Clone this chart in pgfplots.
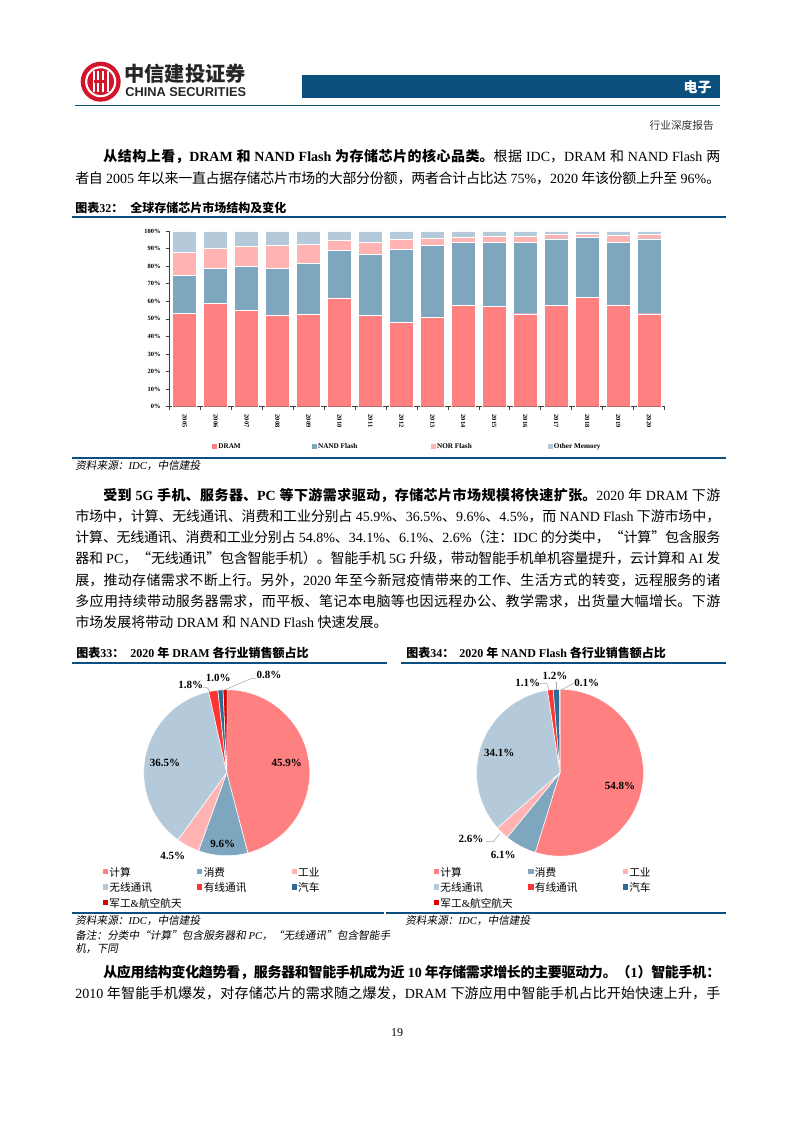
\documentclass[border=0pt]{standalone}
\usepackage{fontspec}
\usepackage{pgfplots}
\pgfplotsset{compat=1.18}
\setmainfont{Liberation Serif}
\newfontfamily\cjk{Noto Sans CJK SC}[ItalicFont={Noto Sans CJK SC}, ItalicFeatures={FakeSlant=0.18}]
\newfontfamily\arialf{Liberation Sans}
% switch to the CJK font for CJK characters
\XeTeXinterchartokenstate=1
\newXeTeXintercharclass\CJKclass
\newcount\cc
\cc="2E80 \loop\XeTeXcharclass\cc=\CJKclass \ifnum\cc<"9FFF \advance\cc by 1 \repeat
\cc="FF00 \loop\XeTeXcharclass\cc=\CJKclass \ifnum\cc<"FFEF \advance\cc by 1 \repeat
\XeTeXcharclass"201C=\CJKclass \XeTeXcharclass"201D=\CJKclass
\XeTeXinterchartoks 0 \CJKclass = {\cjk}
\XeTeXinterchartoks 4095 \CJKclass = {\cjk}
\XeTeXinterchartoks \CJKclass 0 = {\rmfamily}
\XeTeXinterchartoks \CJKclass 4095 = {\rmfamily}
\XeTeXlinebreaklocale "zh"
\XeTeXlinebreakskip=0pt plus 2pt minus 0.8pt

\definecolor{hdr}{HTML}{0B4F7C}
\definecolor{cA}{HTML}{FF8080}
\definecolor{cB}{HTML}{7FA6BF}
\definecolor{cC}{HTML}{FFB3B3}
\definecolor{cD}{HTML}{B4C9D9}
\definecolor{cE}{HTML}{FF3535}
\definecolor{cF}{HTML}{2F6B92}
\definecolor{cG}{HTML}{E00000}
\definecolor{logored}{HTML}{D2152B}

\pgfplotsset{sqleg/.style={legend image code/.code={\fill[##1,draw=none] (0pt,-1.9pt) rectangle (3.8pt,1.9pt);}}}
\newcommand\lgb[2]{\makebox[#1][l]{\hspace{1pt}#2}}
\newcommand\lgp[1]{\makebox[67pt][l]{\rule[-2.8pt]{0pt}{11.6pt}\hspace{1pt}#1}}
\newcommand\pieslices[2]{%
  \xdef\pieangle{90}%
  \foreach \v/\c in {#2}{%
    \pgfmathsetmacro\pieend{\pieangle-3.6*\v}%
    \fill[\c, draw=white, line width=0.4pt] (axis cs:0,0) -- ++(\pieangle:#1) arc[start angle=\pieangle, end angle=\pieend, radius=#1] -- cycle;
    \xdef\pieangle{\pieend}%
  }}

\begin{document}
\begin{tikzpicture}[x=0.75pt,y=0.75pt]
\fill[white] (0,0) rectangle (794,-1123);

% ---------- header ----------
\fill[logored] (100.7,-81.7) circle (20);
\draw[white, line width=1.6pt] (100.7,-81.7) circle (14.5);
\fill[logored] (100.7,-81.7) circle (12);
\foreach \dx in {-7,-2.5,2.5,7} \fill[white] (100.7+\dx-1.1,-71) rectangle (100.7+\dx+1.1,-92.4);
\fill[logored] (94,-80.5) rectangle (107.4,-82.9);
\node[anchor=west, inner sep=0, text=black!85] at (124,-73.3) {\fontsize{15.2pt}{16pt}\selectfont\bfseries 中信建投证券};
\node[anchor=west, inner sep=0, text=black!85] at (125,-92) {\arialf\fontsize{9.6pt}{10pt}\selectfont\bfseries CHINA SECURITIES};
\fill[hdr] (302,-75) rectangle (720,-97.7);
\node[anchor=east, inner sep=0, text=white] at (712,-87) {\fontsize{10.5pt}{12pt}\selectfont\bfseries 电子};
\draw[hdr, line width=1.1pt] (75,-105.7) -- (720,-105.7);
\node[anchor=east, inner sep=0, text=black!80] at (714,-125) {\fontsize{8pt}{9pt}\selectfont 行业深度报告};

% ---------- paragraph 1 ----------
\node[anchor=base west, inner sep=0, text width=483.75pt, align=justify, font=\fontsize{10.5pt}{16.2pt}\selectfont] at (75,-162) {\hspace*{21pt}\textbf{从结构上看，DRAM 和 NAND Flash 为存储芯片的核心品类。}根据 IDC，DRAM 和 NAND Flash 两\linebreak
者自 2005 年以来一直占据存储芯片市场的大部分份额，两者合计占比达 75\%，2020 年该份额上升至 96\%。\par};

% ---------- figure 32 ----------
\node[anchor=west, inner sep=0] at (75,-208) {\fontsize{9pt}{10pt}\selectfont\bfseries 图表32：};
\node[anchor=west, inner sep=0] at (130,-208) {\fontsize{9pt}{10pt}\selectfont\bfseries 全球存储芯片市场结构及变化};
\draw[hdr, line width=1.3pt] (72,-216.7) -- (726,-216.7);

\begin{axis}[
  at={(126.9pt,-305.03pt)}, anchor=south west, scale only axis,
  width=371.5pt, height=131.8pt,
  ybar stacked, bar width=18pt,
  xmin=-0.5, xmax=15.5, ymin=0, ymax=100,
  xtick={-0.5,0.5,...,15.5}, x tick label as interval,
  xticklabels={2005,2006,2007,2008,2009,2010,2011,2012,2013,2014,2015,2016,2017,2018,2019,2020},
  ytick={0,10,...,100},
  yticklabel={\pgfmathprintnumber{\tick}\%},
  /pgf/number format/assume math mode=true,
  axis x line*=bottom, axis y line*=left,
  axis line style={black!75, line width=0.5pt},
  tick style={black!75, line width=0.4pt},
  major tick length=2.5pt, tick align=outside,
  ticklabel style={font=\fontsize{4.8pt}{5pt}\selectfont\bfseries},
  yticklabel style={xshift=-0.5pt},
  xticklabel style={rotate=-90, anchor=west, yshift=0pt},
  every axis plot post/.append style={legend image code/.code={\fill[#1,draw=none] (0pt,-1.9pt) rectangle (3.8pt,1.9pt);}},
  legend columns=4,
  legend style={at={(axis description cs:0.0858,-0.2277)}, anchor=west, draw=none, fill=none, inner sep=0pt, column sep=0pt, nodes={inner sep=0pt}, font=\fontsize{5.4pt}{6pt}\selectfont\bfseries},
  legend cell align=left,
]
\addplot[fill=cA, draw=white, line width=0.3pt] coordinates {(0,53.1) (1,58.8) (2,54.8) (3,52.2) (4,52.6) (5,61.9) (6,52.0) (7,48.2) (8,50.7) (9,57.9) (10,57.1) (11,52.9) (12,57.5) (13,62.2) (14,57.9) (15,52.9)};
\addlegendentry{\lgb{71pt}{DRAM}}
\addplot[fill=cB, draw=white, line width=0.3pt] coordinates {(0,21.7) (1,19.8) (2,24.9) (3,26.4) (4,28.8) (5,26.9) (6,34.9) (7,41.4) (8,41.0) (9,35.5) (10,36.6) (11,40.8) (12,38.1) (13,34.0) (14,35.8) (15,42.7)};
\addlegendentry{\lgb{85.5pt}{NAND Flash}}
\addplot[fill=cC, draw=white, line width=0.3pt] coordinates {(0,13.1) (1,11.7) (2,11.6) (3,13.4) (4,11.0) (5,5.9) (6,6.6) (7,5.5) (8,4.1) (9,3.0) (10,3.3) (11,3.1) (12,2.5) (13,2.1) (14,3.8) (15,2.3)};
\addlegendentry{\lgb{83.8pt}{NOR Flash}}
\addplot[fill=cD, draw=white, line width=0.3pt] coordinates {(0,12.1) (1,9.7) (2,8.7) (3,8.0) (4,7.6) (5,5.3) (6,6.5) (7,4.9) (8,4.2) (9,3.6) (10,3.0) (11,3.2) (12,1.9) (13,1.7) (14,2.5) (15,2.1)};
\addlegendentry{\lgb{40pt}{Other Memory}}
\end{axis}

\draw[hdr, line width=1.3pt] (72,-458) -- (726,-458);
\node[anchor=west, inner sep=0] at (75,-466) {\fontsize{8pt}{9pt}\selectfont\itshape 资料来源：IDC，中信建投};

% ---------- paragraph 2 ----------
\node[anchor=base west, inner sep=0, text width=483.75pt, align=justify, font=\fontsize{10.5pt}{15.9pt}\selectfont] at (75,-500.3) {\hspace*{21pt}\textbf{受到 5G 手机、服务器、PC 等下游需求驱动，存储芯片市场规模将快速扩张。}2020 年 DRAM 下游\linebreak
市场中，计算、无线通讯、消费和工业分别占 45.9\%、36.5\%、9.6\%、4.5\%，而 NAND Flash 下游市场中，\linebreak
计算、无线通讯、消费和工业分别占 54.8\%、34.1\%、6.1\%、2.6\%（注：IDC 的分类中，“计算”包含服务\linebreak
器和 PC，“无线通讯”包含智能手机）。智能手机 5G 升级，带动智能手机单机容量提升，云计算和 AI 发\linebreak
展，推动存储需求不断上行。另外，2020 年至今新冠疫情带来的工作、生活方式的转变，远程服务的诸\linebreak
多应用持续带动服务器需求，而平板、笔记本电脑等也因远程办公、教学需求，出货量大幅增长。下游\linebreak
市场发展将带动 DRAM 和 NAND Flash 快速发展。\par};

% ---------- figures 33 / 34 ----------
\node[anchor=west, inner sep=0] at (76,-653.3) {\fontsize{9pt}{10pt}\selectfont\bfseries 图表33：};
\node[anchor=west, inner sep=0] at (130,-653.3) {\fontsize{9pt}{10pt}\selectfont\bfseries 2020 年 DRAM 各行业销售额占比};
\node[anchor=west, inner sep=0] at (406,-653.3) {\fontsize{9pt}{10pt}\selectfont\bfseries 图表34：};
\node[anchor=west, inner sep=0] at (459,-653.3) {\fontsize{9pt}{10pt}\selectfont\bfseries 2020 年 NAND Flash 各行业销售额占比};
\draw[hdr, line width=1.3pt] (72,-662.7) -- (387,-662.7);
\draw[hdr, line width=1.3pt] (401,-662.7) -- (726,-662.7);

\begin{axis}[at={(170.03pt,-579.53pt)}, anchor=center, hide axis, x=62.25pt, y=62.25pt,
  xmin=-1, xmax=1, ymin=-1, ymax=1, legend columns=3, legend cell align=left,
  legend style={at={(axis description cs:-0.247,-0.05)}, anchor=north west, draw=none, fill=none, inner sep=0pt, column sep=0pt, row sep=1.6pt, nodes={inner sep=0pt}, font=\fontsize{8pt}{9pt}\selectfont}]
\addlegendimage{sqleg,fill=cA}\addlegendentry{\lgp{计算}}
\addlegendimage{sqleg,fill=cB}\addlegendentry{\lgp{消费}}
\addlegendimage{sqleg,fill=cC}\addlegendentry{\lgp{工业}}
\addlegendimage{sqleg,fill=cD}\addlegendentry{\lgp{无线通讯}}
\addlegendimage{sqleg,fill=cE}\addlegendentry{\lgp{有线通讯}}
\addlegendimage{sqleg,fill=cF}\addlegendentry{\lgp{汽车}}
\addlegendimage{sqleg,fill=cG}\addlegendentry{\lgp{军工\&航空航天}}
\pgfplotsextra{\pieslices{62.25pt}{45.9/cA,9.6/cB,4.5/cC,36.5/cD,1.8/cE,1.0/cF,0.8/cG}}
\end{axis}

\begin{axis}[at={(420pt,-579.53pt)}, anchor=center, hide axis, x=62.6pt, y=62.6pt,
  xmin=-1, xmax=1, ymin=-1, ymax=1, legend columns=3, legend cell align=left,
  legend style={at={(axis description cs:-0.256,-0.047)}, anchor=north west, draw=none, fill=none, inner sep=0pt, column sep=0pt, row sep=1.6pt, nodes={inner sep=0pt}, font=\fontsize{8pt}{9pt}\selectfont}]
\addlegendimage{sqleg,fill=cA}\addlegendentry{\lgp{计算}}
\addlegendimage{sqleg,fill=cB}\addlegendentry{\lgp{消费}}
\addlegendimage{sqleg,fill=cC}\addlegendentry{\lgp{工业}}
\addlegendimage{sqleg,fill=cD}\addlegendentry{\lgp{无线通讯}}
\addlegendimage{sqleg,fill=cE}\addlegendentry{\lgp{有线通讯}}
\addlegendimage{sqleg,fill=cF}\addlegendentry{\lgp{汽车}}
\addlegendimage{sqleg,fill=cG}\addlegendentry{\lgp{军工\&航空航天}}
\pgfplotsextra{\pieslices{62.6pt}{54.8/cA,6.1/cB,2.6/cC,34.1/cD,1.1/cE,1.2/cF,0.1/cG}}
\end{axis}

% pie labels
\begin{scope}[every node/.style={inner sep=0, font=\fontsize{8.25pt}{9pt}\selectfont\bfseries}]
\node at (286.7,-762.7) {45.9\%};
\node at (222.7,-844) {9.6\%};
\node at (172.7,-856) {4.5\%};
\node at (165,-762.7) {36.5\%};
\node at (190.7,-685) {1.8\%};
\node at (218.3,-678.3) {1.0\%};
\node at (269,-675) {0.8\%};
\node at (620,-786) {54.8\%};
\node at (503.3,-855) {6.1\%};
\node at (471,-839.3) {2.6\%};
\node at (499.3,-753.3) {34.1\%};
\node at (527.7,-682.7) {1.1\%};
\node at (555,-676) {1.2\%};
\node at (586.7,-682.7) {0.1\%};
\end{scope}
\begin{scope}[gray!70, line width=0.4pt]
\draw (202.7,-687.7) -- (207.3,-687.7) -- (210,-692.3);
\draw (224.3,-690) -- (251.7,-678.3) -- (256,-678.3);
\draw (486,-841.7) -- (493.3,-841.7) -- (500,-833.3);
\draw (539.3,-683.3) -- (546.7,-683.3) -- (549.3,-690.7);
\draw (556.7,-682) -- (556.7,-690);
\draw (574,-683.3) -- (561,-690);
\end{scope}

\draw[hdr, line width=1.3pt] (72,-912.7) -- (384,-912.7);
\draw[hdr, line width=1.3pt] (386,-912.7) -- (726,-912.7);
\node[anchor=west, inner sep=0] at (75,-921) {\fontsize{8pt}{9pt}\selectfont\itshape 资料来源：IDC，中信建投};
\node[anchor=west, inner sep=0] at (75,-936) {\fontsize{8pt}{9pt}\selectfont\itshape 备注：分类中“计算”包含服务器和 PC，“无线通讯”包含智能手};
\node[anchor=west, inner sep=0] at (75,-949) {\fontsize{8pt}{9pt}\selectfont\itshape 机，下同};
\node[anchor=west, inner sep=0] at (405,-921) {\fontsize{8pt}{9pt}\selectfont\itshape 资料来源：IDC，中信建投};

% ---------- paragraph 3 ----------
\node[anchor=base west, inner sep=0, text width=483.75pt, align=justify, font=\fontsize{10.5pt}{16.1pt}\selectfont] at (75,-977.3) {\parfillskip=0pt\hspace*{21pt}\textbf{从应用结构变化趋势看，服务器和智能手机成为近 10 年存储需求增长的主要驱动力。（1）智能手机：}\linebreak
2010 年智能手机爆发，对存储芯片的需求随之爆发，DRAM 下游应用中智能手机占比开始快速上升，手\par};

\node[inner sep=0] at (397,-1033) {\fontsize{9pt}{10pt}\selectfont 19};
\end{tikzpicture}
\end{document}
